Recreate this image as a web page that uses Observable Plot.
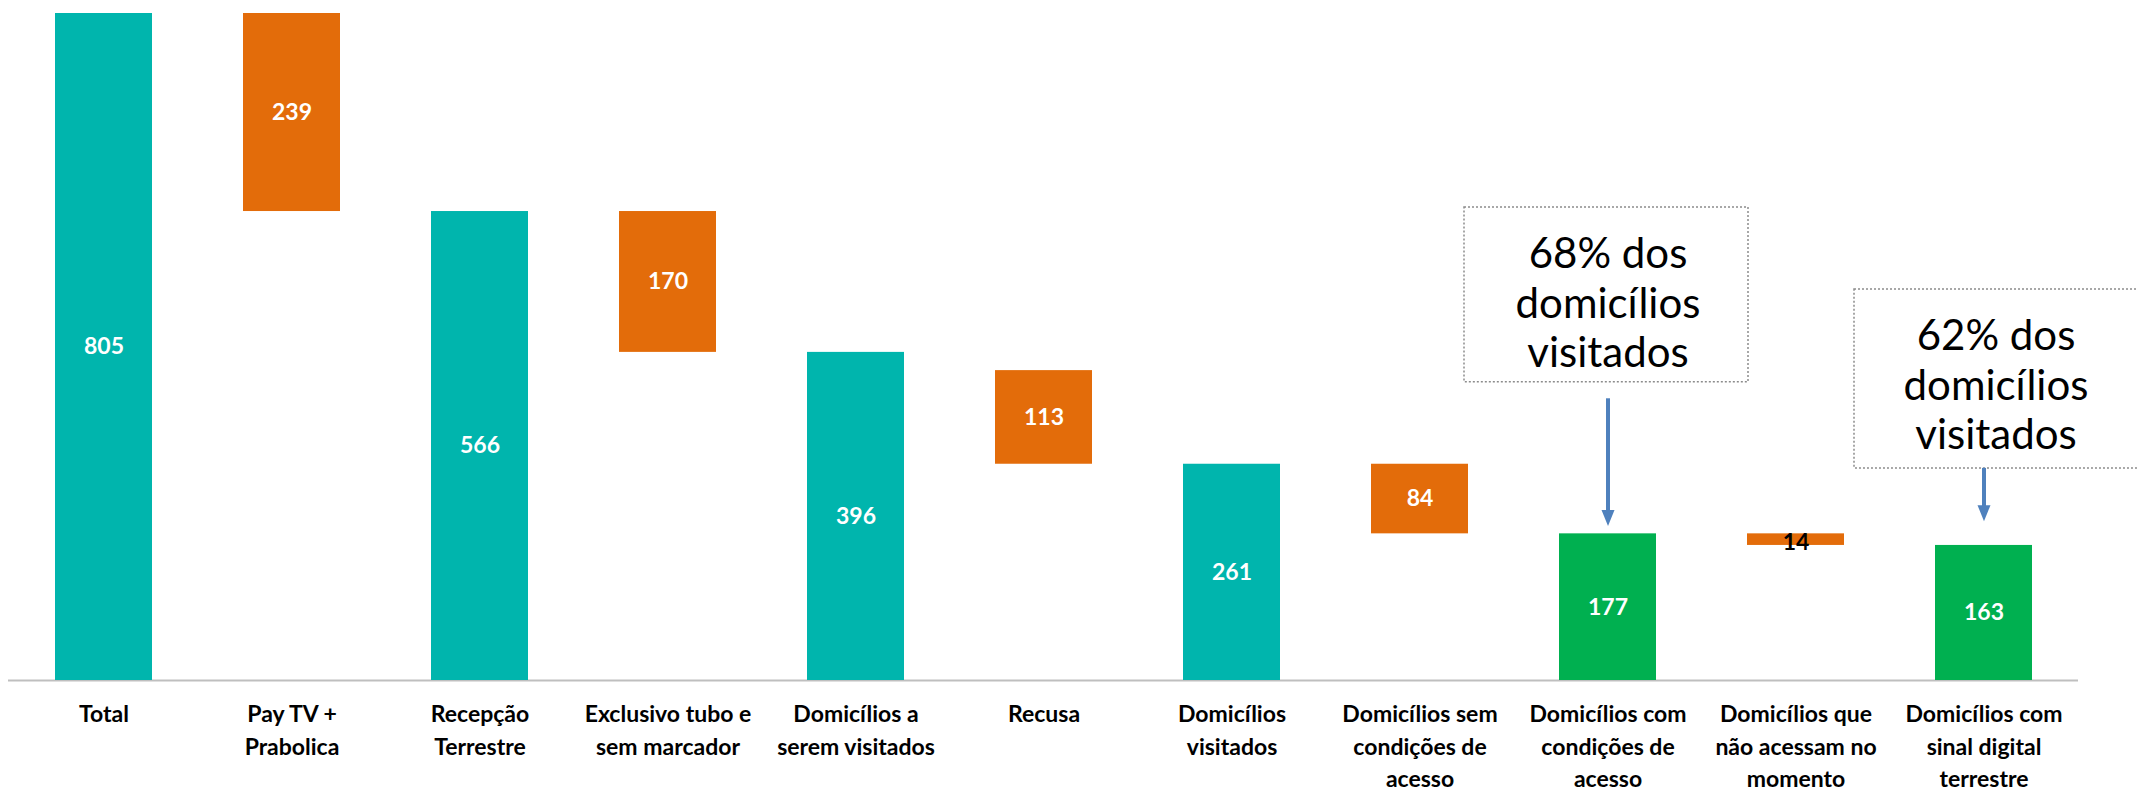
<!DOCTYPE html>
<html><head><meta charset="utf-8">
<script src="https://cdn.jsdelivr.net/npm/d3@7"></script>
<script src="https://cdn.jsdelivr.net/npm/@observablehq/plot@0.6"></script>
<style>html,body{margin:0;padding:0;background:#fff;overflow:hidden}</style>
</head><body><div id="chart"></div>
<script>
const categories = [
  "Total",
  "Pay TV +\nPrabolica",
  "Recepção\nTerrestre",
  "Exclusivo tubo e\nsem marcador",
  "Domicílios a\nserem visitados",
  "Recusa",
  "Domicílios\nvisitados",
  "Domicílios sem\ncondições de\nacesso",
  "Domicílios com\ncondições de\nacesso",
  "Domicílios que\nnão acessam no\nmomento",
  "Domicílios com\nsinal digital\nterrestre"
];
const values = [805, 239, 566, 170, 396, 113, 261, 84, 177, 14, 163];
const bases  = [0, 566, 0, 396, 0, 261, 0, 177, 0, 163, 0];
const kinds  = ["total","decrease","total","decrease","total","decrease","total","decrease","final","decrease","final"];

const annotCats   = [categories[8], categories[10]];
const annotTexts  = ["68% dos\ndomicílios\nvisitados", "62% dos\ndomicílios\nvisitados"];
const boxTop      = [571, 472];
const boxBottom   = [360, 256];
const textMid     = [457, 358];
const arrowFrom   = [340, 256];
const arrowHead   = [196, 202];

const rows = categories.map((c, i) => ({cat: c, y1: bases[i], y2: bases[i] + values[i], value: values[i], kind: kinds[i]}));
const annots = annotCats.map((c, i) => ({cat: c, text: annotTexts[i], top: boxTop[i], bottom: boxBottom[i], mid: textMid[i], from: arrowFrom[i], head: arrowHead[i], idx: i}));

const downTriangle = {draw(ctx) { ctx.moveTo(-6.5, -8); ctx.lineTo(6.5, -8); ctx.lineTo(0, 8); ctx.closePath(); }};

const font = "Lato, 'Open Sans', sans-serif";

const chart = Plot.plot({
  width: 2138,
  height: 793,
  marginTop: 13,
  marginBottom: 113,
  marginLeft: 8,
  marginRight: 60,
  style: {fontFamily: font, background: "#fff"},
  x: {domain: categories, paddingInner: 0.485, paddingOuter: 0.2425, axis: null},
  y: {domain: [0, 805], axis: null},
  color: {domain: ["total", "decrease", "final"], range: ["#00B5AD", "#E36C0A", "#00B050"]},
  marks: [
    Plot.ruleY([0], {stroke: "#BFBFBF", strokeWidth: 2}),
    Plot.barY(rows, {x: "cat", y1: "y1", y2: "y2", fill: "kind"}),
    Plot.text(rows.filter(d => d.value >= 50), {x: "cat", y: d => (d.y1 + d.y2) / 2, text: d => String(d.value), fill: "white", fontSize: 23, fontWeight: "bold"}),
    Plot.text(rows.filter(d => d.value < 50), {x: "cat", y: d => (d.y1 + d.y2) / 2, text: d => String(d.value), fill: "black", fontSize: 23, fontWeight: "bold", dy: 3}),
    Plot.text(categories, {x: d => d, y: 0, text: d => d, lineAnchor: "top", dy: 19, fontSize: 23, fontWeight: "bold", lineHeight: 1.4, fill: "black"}),
    // annotation boxes
    Plot.barY(annots.filter(d => d.idx === 0), {x: "cat", y1: "bottom", y2: "top", fill: "none", stroke: "#8c8c8c", strokeWidth: 1.5, strokeDasharray: "2,2", insetLeft: -95, insetRight: -92}),
    Plot.barY(annots.filter(d => d.idx === 1), {x: "cat", y1: "bottom", y2: "top", fill: "none", stroke: "#8c8c8c", strokeWidth: 1.5, strokeDasharray: "2,2", insetLeft: -81, insetRight: -108}),
    Plot.text(annots.filter(d => d.idx === 0), {x: "cat", y: "mid", text: "text", fontSize: 42, lineHeight: 1.17, fill: "black"}),
    Plot.text(annots.filter(d => d.idx === 1), {x: "cat", y: "mid", text: "text", fontSize: 42, lineHeight: 1.17, fill: "black", dx: 12}),
    Plot.ruleX(annots, {x: "cat", y1: "from", y2: "head", stroke: "#4F81BD", strokeWidth: 4}),
    Plot.dot(annots, {x: "cat", y: "head", symbol: downTriangle, fill: "#4F81BD", stroke: "none", r: 8})
  ]
});
document.getElementById("chart").appendChild(chart);
</script>
</body></html>
